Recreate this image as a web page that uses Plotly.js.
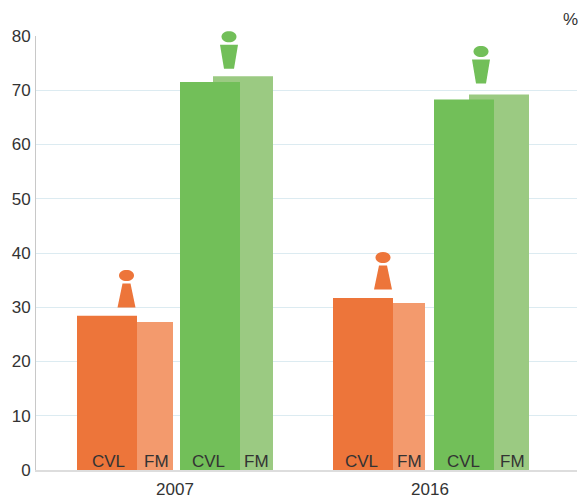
<!DOCTYPE html>
<html>
<head>
<meta charset="utf-8">
<script src="https://cdn.plot.ly/plotly-3.0.1.min.js"></script>
<style>html,body{margin:0;padding:0;background:#fff}#c{width:579px;height:498px}</style>
</head>
<body>
<div id="c"></div>
<script>
const years = ['2007', '2016'];
const seriesLabels = ['CVL', 'FM'];
const yTicks = [0, 10, 20, 30, 40, 50, 60, 70, 80];
const menCVL = [28.45, 31.7];
const menFM = [27.3, 30.8];
const womenCVL = [71.5, 68.3];
const womenFM = [72.6, 69.2];
const unit = '%';

// Layout helpers (not data)
const PX = 255, C0 = 175;                 // pixels per category, centre of the first one
const LEFT = 36, RIGHT = 577, YMAX = 80;
const off = p => (p - C0) / PX;           // pixel-measured offset to axis units
const barW = off(C0 + 60);
const font = 'Liberation Sans, Arial, sans-serif';
const ORANGE = '#ed753a', ORANGE_L = '#f39a6d', GREEN = '#72bf59', GREEN_L = '#9bca82';

function bar(x, y, color) {
  return {type: 'bar', x, y, width: barW, marker: {color, line: {width: 0}}, hoverinfo: 'y', showlegend: false};
}
const traces = [
  bar([off(143), off(395)], menFM, ORANGE_L),
  bar([off(107), off(363)], menCVL, ORANGE),
  bar([off(243), off(499)], womenFM, GREEN_L),
  bar([off(210), off(464)], womenCVL, GREEN)
];

const labelX = [108, 156, 208, 256, 361, 409, 463, 512];
const annotations = labelX.map((p, i) => ({
  x: off(p), y: 0, xref: 'x', yref: 'y', yanchor: 'bottom', yshift: -3, xanchor: 'center',
  text: seriesLabels[i % 2], showarrow: false, font: {family: font, size: 17, color: '#333333'}
}));
annotations.push({
  x: 562 / 579, y: 1, xref: 'paper', yref: 'paper', xanchor: 'left', yanchor: 'bottom',
  yshift: 5, text: unit, showarrow: false, font: {family: font, size: 17, color: '#333333'}
});

// Person pictograms: pixel-sized paths anchored above the bars (paper refs, so they are not clipped)
function person(px, value, color, inverted) {
  const body = inverted ? 'M -9 24 L 9 24 L 5 0 L -5 0 Z' : 'M -4 24 L 4 24 L 9 0 L -9 0 Z';
  const common = {type: 'path', xref: 'paper', yref: 'paper', xsizemode: 'pixel', ysizemode: 'pixel',
    xanchor: (px - LEFT) / (RIGHT - LEFT), yanchor: value / YMAX, fillcolor: color, line: {width: 0}};
  return [
    Object.assign({}, common, {path: body}),
    Object.assign({}, common, {path: 'M -7.5 32 C -7.5 28.5 -4 26.5 0 26.5 C 4 26.5 7.5 28.5 7.5 32 C 7.5 35.5 4 37.5 0 37.5 C -4 37.5 -7.5 35.5 -7.5 32 Z'})
  ];
}
const shapes = [].concat(
  person(126.5, 29.95, ORANGE, false),
  person(383, 33.25, ORANGE, false),
  person(229, 73.95, GREEN, true),
  person(481, 71.25, GREEN, true)
);

Plotly.newPlot('c', traces, {
  width: 579, height: 498,
  margin: {l: 36, r: 2, t: 36, b: 27.5},
  paper_bgcolor: '#fff', plot_bgcolor: '#fff',
  barmode: 'overlay', showlegend: false,
  font: {family: font, size: 17, color: '#333333'},
  xaxis: {
    range: [off(LEFT), off(RIGHT)], tickmode: 'array', tickvals: [0, 1], ticktext: years,
    showgrid: false, zeroline: false, showline: true, linecolor: '#dddddd', linewidth: 2,
    ticks: '', ticklabelstandoff: 3, tickfont: {family: font, size: 17, color: '#333333'}
  },
  yaxis: {
    range: [0, YMAX], tickmode: 'array', tickvals: yTicks, ticktext: yTicks.map(String),
    showgrid: true, gridcolor: '#dcebf1', gridwidth: 1, zeroline: false,
    showline: true, linecolor: '#c8c8c8', linewidth: 1, ticks: '', ticklabelstandoff: 1,
    tickfont: {family: font, size: 17, color: '#333333'}
  },
  annotations, shapes
}, {displayModeBar: false, staticPlot: true});
</script>
</body>
</html>
